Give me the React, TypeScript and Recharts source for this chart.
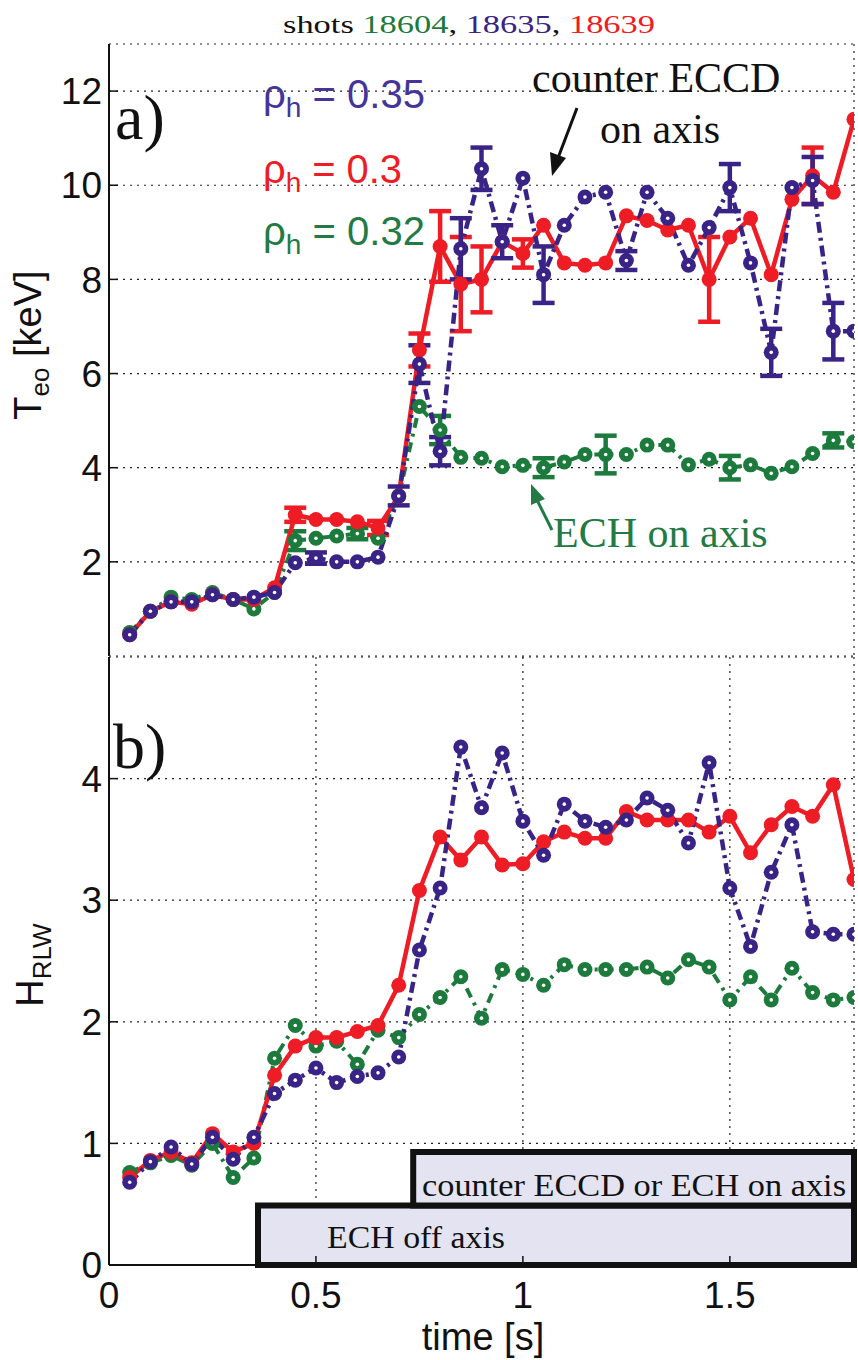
import React from 'react';
import { LineChart, Line, XAxis, YAxis, CartesianGrid, ErrorBar, ReferenceArea } from 'recharts';

// sample times [s]
const times = [
  0.05, 0.1, 0.15, 0.2, 0.25, 0.3, 0.35, 0.4, 0.45, 0.5, 0.55, 0.6,
  0.65, 0.7, 0.75, 0.8, 0.85, 0.9, 0.95, 1.0, 1.05, 1.1, 1.15, 1.2,
  1.25, 1.3, 1.35, 1.4, 1.45, 1.5, 1.55, 1.6, 1.65, 1.7, 1.75, 1.8,
];

// panel a) T_eo [keV]
const teo18639 = [
  0.45, 0.95, 1.15, 1.1, 1.3, 1.2, 1.2, 1.45, 3.0, 2.9, 2.9, 2.85,
  2.72, 3.4, 6.5, 8.7, 7.9, 8.0, 8.8, 8.55, 9.15, 8.35, 8.3, 8.35,
  9.35, 9.25, 9.05, 9.15, 8.0, 8.9, 9.3, 8.1, 9.7, 10.2, 9.85, 11.4,
];
const teo18635 = [
  0.45, 0.95, 1.15, 1.15, 1.3, 1.2, 1.25, 1.35, 1.98, 2.08, 2.0, 2.0,
  2.1, 3.4, 6.2, 4.35, 8.65, 10.35, 8.8, 10.15, 8.1, 9.15, 9.75, 9.85,
  8.4, 9.85, 9.3, 8.3, 9.1, 9.95, 8.35, 6.45, 9.95, 10.1, 6.9, 6.9,
];
const teo18604 = [
  0.5, 0.95, 1.25, 1.2, 1.35, 1.2, 1.0, 1.35, 2.45, 2.5, 2.55, 2.6,
  2.5, 3.4, 5.3, 4.8, 4.22, 4.2, 4.02, 4.05, 4.0, 4.12, 4.28, 4.28,
  4.28, 4.48, 4.48, 4.06, 4.18, 4.0, 4.06, 3.88, 4.02, 4.3, 4.58, 4.55,
];
const teoErr18639 = [
  null, null, null, null, null, null, null, null, 0.15, null, null, null,
  0.15, null, 0.35, 0.75, 1.0, 0.7, null, 0.3, null, null, null, null,
  null, null, null, null, 0.9, null, null, null, null, 0.6, null, null,
];
const teoErr18635 = [
  null, null, null, null, null, null, null, null, null, 0.12, null, null,
  null, 0.2, 0.4, 0.3, 0.65, 0.45, 0.35, null, 0.6, null, null, null,
  0.2, null, null, null, null, 0.5, null, 0.5, null, 0.5, 0.6, null,
];
const teoErr18604 = [
  null, null, null, null, null, null, null, null, 0.2, null, null, 0.12,
  null, null, null, 0.3, null, null, null, null, 0.2, null, null, 0.4,
  null, null, null, null, null, 0.25, null, null, null, null, 0.15, null,
];

// panel b) H_RLW
const h18639 = [
  0.72, 0.86, 0.93, 0.84, 1.08, 0.93, 1.0, 1.56, 1.8, 1.87, 1.87, 1.92,
  1.97, 2.3, 3.08, 3.52, 3.33, 3.52, 3.29, 3.3, 3.48, 3.56, 3.51, 3.51,
  3.73, 3.66, 3.66, 3.66, 3.56, 3.69, 3.39, 3.62, 3.77, 3.69, 3.95, 3.17,
];
const h18635 = [
  0.68, 0.85, 0.97, 0.83, 1.05, 0.87, 1.05, 1.41, 1.52, 1.62, 1.5, 1.55,
  1.58, 1.71, 2.59, 3.1, 4.26, 3.76, 4.21, 3.65, 3.37, 3.79, 3.65, 3.6,
  3.66, 3.84, 3.74, 3.47, 4.13, 3.1, 2.62, 3.23, 3.62, 2.74, 2.72, 2.72,
];
const h18604 = [
  0.76, 0.84, 0.9, 0.82, 1.0, 0.72, 0.88, 1.7, 1.97, 1.8, 1.84, 1.65,
  1.93, 1.87, 2.06, 2.2, 2.37, 2.03, 2.43, 2.39, 2.3, 2.47, 2.43, 2.43,
  2.43, 2.45, 2.36, 2.51, 2.45, 2.18, 2.37, 2.18, 2.44, 2.24, 2.18, 2.2,
];

const xTicks = [0, 0.5, 1, 1.5];
const teoTicks = [2, 4, 6, 8, 10, 12];
const hTicks = [0, 1, 2, 3, 4];

const RED = '#ee1c25';
const PURPLE = '#3a2386';
const GREEN = '#1c7a3c';
const SANS = "'Liberation Sans', Arial, Helvetica, sans-serif";
const SERIF = "'Liberation Serif', 'Times New Roman', serif";

const teoData = times.map((t, i) => ({
  t,
  red: teo18639[i],
  purple: teo18635[i],
  green: teo18604[i],
  redErr: teoErr18639[i],
  purpleErr: teoErr18635[i],
  greenErr: teoErr18604[i],
}));

const hData = times.map((t, i) => ({
  t,
  red: h18639[i],
  purple: h18635[i],
  green: h18604[i],
}));

const makeDot = (color: string, hollow: boolean) => (props: any) => {
  const { cx, cy, index } = props;
  if (cx == null || cy == null) return <g key={`d-${color}-${index}`} />;
  return (
    <g key={`d-${color}-${index}`}>
      <circle cx={cx} cy={cy} r={7.5} fill={color} />
      {hollow && <circle cx={cx} cy={cy} r={1.8} fill="#fff" />}
    </g>
  );
};

const frame = { stroke: '#111', strokeWidth: 2 };
const tickLn = { stroke: '#111', strokeWidth: 1.5 };
const tickTxt = { fontSize: 37, fill: '#111', fontFamily: SANS };

export default function App() {
  return (
    <div style={{ position: 'absolute', left: 0, top: 0, width: 858, height: 1360, background: '#fff' }}>
      <div style={{ position: 'absolute', left: 0, top: 0 }}>
        <LineChart width={858} height={657} data={teoData} margin={{ top: 44, right: 4, bottom: 1, left: 0 }}>
          <CartesianGrid stroke="#222" strokeDasharray="2 5" strokeWidth={1.2} />
          <XAxis dataKey="t" type="number" domain={[0, 1.8]} ticks={xTicks} allowDataOverflow
            height={0} tick={false} tickSize={-9} axisLine={frame} tickLine={tickLn} />
          <XAxis xAxisId="top" orientation="top" type="number" domain={[0, 1.8]} ticks={xTicks} allowDataOverflow
            height={0} tick={false} tickSize={-9} axisLine={frame} tickLine={tickLn} />
          <YAxis type="number" domain={[0, 13]} ticks={teoTicks} allowDataOverflow width={109}
            tickSize={-9} tickMargin={16} tick={tickTxt} axisLine={frame} tickLine={tickLn} interval={0} />
          <YAxis yAxisId="right" orientation="right" type="number" domain={[0, 13]} ticks={teoTicks} allowDataOverflow
            width={0} tick={false} tickSize={-9} axisLine={frame} tickLine={tickLn} />
          <Line dataKey="green" stroke={GREEN} strokeWidth={4} strokeDasharray="10 6 3 6"
            dot={makeDot(GREEN, true)} isAnimationActive={false}>
            <ErrorBar dataKey="greenErr" direction="y" width={11} stroke={GREEN} strokeWidth={4.5} />
          </Line>
          <Line dataKey="red" stroke={RED} strokeWidth={4.5}
            dot={makeDot(RED, false)} isAnimationActive={false}>
            <ErrorBar dataKey="redErr" direction="y" width={11} stroke={RED} strokeWidth={4.5} />
          </Line>
          <Line dataKey="purple" stroke={PURPLE} strokeWidth={4.5} strokeDasharray="11 5 3 5"
            dot={makeDot(PURPLE, true)} isAnimationActive={false}>
            <ErrorBar dataKey="purpleErr" direction="y" width={11} stroke={PURPLE} strokeWidth={4.5} />
          </Line>
        </LineChart>
      </div>

      <div style={{ position: 'absolute', left: 0, top: 600 }}>
        <LineChart width={858} height={760} data={hData} margin={{ top: 57, right: 4, bottom: 0, left: 0 }}>
          <CartesianGrid stroke="#222" strokeDasharray="2 5" strokeWidth={1.2} />
          <XAxis dataKey="t" type="number" domain={[0, 1.8]} ticks={xTicks} allowDataOverflow interval={0}
            height={95} tickSize={-9} tickMargin={26} tick={tickTxt} axisLine={frame} tickLine={tickLn} />
          <XAxis xAxisId="top" orientation="top" type="number" domain={[0, 1.8]} ticks={xTicks} allowDataOverflow
            height={0} tick={false} tickSize={-9} axisLine={frame} tickLine={tickLn} />
          <YAxis type="number" domain={[0, 5]} ticks={hTicks} allowDataOverflow width={109} interval={0}
            tickSize={-9} tickMargin={16} tick={tickTxt} axisLine={frame} tickLine={tickLn} />
          <YAxis yAxisId="right" orientation="right" type="number" domain={[0, 5]} ticks={hTicks} allowDataOverflow
            width={0} tick={false} tickSize={-9} axisLine={frame} tickLine={tickLn} />
          <Line dataKey="green" stroke={GREEN} strokeWidth={4} strokeDasharray="10 6 3 6"
            dot={makeDot(GREEN, true)} isAnimationActive={false} />
          <Line dataKey="red" stroke={RED} strokeWidth={4.5}
            dot={makeDot(RED, false)} isAnimationActive={false} />
          <Line dataKey="purple" stroke={PURPLE} strokeWidth={4.5} strokeDasharray="11 5 3 5"
            dot={makeDot(PURPLE, true)} isAnimationActive={false} />
          <ReferenceArea x1={0.36} x2={1.8} y1={0} y2={0.49} fill="#e3e3f1" fillOpacity={1}
            stroke="#111" strokeWidth={6} />
          <ReferenceArea x1={0.735} x2={1.8} y1={0.49} y2={0.93} fill="#e3e3f1" fillOpacity={1}
            stroke="#111" strokeWidth={6} />
        </LineChart>
      </div>

      <svg width={858} height={1360} style={{ position: 'absolute', left: 0, top: 0, pointerEvents: 'none' }}>
        <text x={283} y={33} fontFamily={SERIF} fontSize={26} textLength={372} lengthAdjust="spacingAndGlyphs" fill="#111">
          shots <tspan fill={GREEN}>18604</tspan>, <tspan fill={PURPLE}>18635</tspan>, <tspan fill={RED}>18639</tspan>
        </text>

        <text x={115} y={139} fontFamily={SERIF} fontSize={64} fill="#111">a)</text>
        <text x={113} y={768} fontFamily={SERIF} fontSize={64} fill="#111">b)</text>

        <text x={263} y={108} fontFamily={SANS} fontSize={40} fill="#45359a" textLength={162} lengthAdjust="spacingAndGlyphs">
          ρ<tspan fontSize={28} dy={9}>h</tspan><tspan dy={-9}> = 0.35</tspan>
        </text>
        <text x={263} y={183} fontFamily={SANS} fontSize={40} fill={RED} textLength={139} lengthAdjust="spacingAndGlyphs">
          ρ<tspan fontSize={28} dy={9}>h</tspan><tspan dy={-9}> = 0.3</tspan>
        </text>
        <text x={263} y={245} fontFamily={SANS} fontSize={40} fill="#237a45" textLength={162} lengthAdjust="spacingAndGlyphs">
          ρ<tspan fontSize={28} dy={9}>h</tspan><tspan dy={-9}> = 0.32</tspan>
        </text>

        <text x={532} y={92} fontFamily={SERIF} fontSize={42} fill="#111">counter ECCD</text>
        <text x={600} y={143} fontFamily={SERIF} fontSize={42} fill="#111">on axis</text>
        <line x1={577} y1={108} x2={558} y2={158} stroke="#111" strokeWidth={3} />
        <polygon points="552,176 550,152 566,158" fill="#111" />

        <text x={553} y={547} fontFamily={SERIF} fontSize={42} fill="#237a45">ECH on axis</text>
        <line x1={552} y1={530} x2={537} y2={500} stroke="#237a45" strokeWidth={3} />
        <polygon points="531,484 531,505 545,499" fill="#237a45" />

        <text x={422} y={1196} fontFamily={SERIF} fontSize={32} fill="#111" textLength={424} lengthAdjust="spacingAndGlyphs">
          counter ECCD or ECH on axis
        </text>
        <text x={327} y={1248} fontFamily={SERIF} fontSize={32} fill="#111" textLength={178} lengthAdjust="spacingAndGlyphs">
          ECH off axis
        </text>

        <text transform="translate(41,345) rotate(-90)" textAnchor="middle" fontFamily={SANS} fontSize={38} fill="#111">
          T<tspan fontSize={26} dy={8}>eo</tspan><tspan dy={-8}> [keV]</tspan>
        </text>
        <text transform="translate(43,965) rotate(-90)" textAnchor="middle" fontFamily={SANS} fontSize={38} fill="#111">
          H<tspan fontSize={26} dy={8}>RLW</tspan>
        </text>

        <text x={483} y={1350} textAnchor="middle" fontFamily={SANS} fontSize={38} fill="#111">time [s]</text>
      </svg>
    </div>
  );
}
